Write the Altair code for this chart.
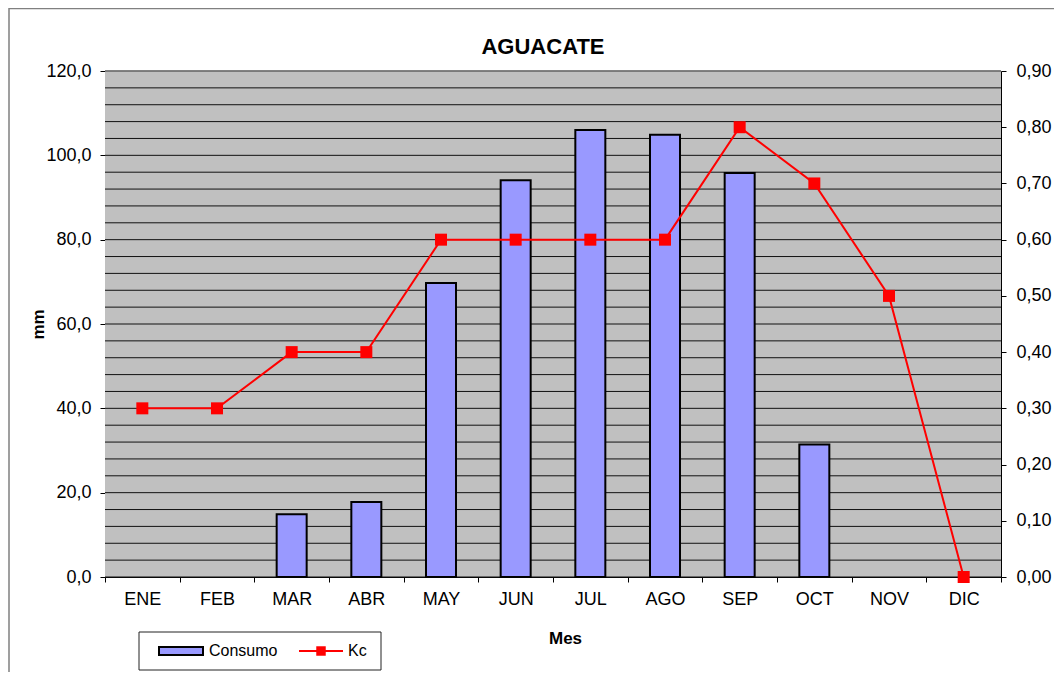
import altair as alt
import pandas as pd

meses = ["ENE", "FEB", "MAR", "ABR", "MAY", "JUN", "JUL", "AGO", "SEP", "OCT", "NOV", "DIC"]
consumo = [0, 0, 14.9, 17.8, 69.7, 94.1, 106.0, 104.9, 95.8, 31.4, 0, 0]
kc = [0.30, 0.30, 0.40, 0.40, 0.60, 0.60, 0.60, 0.60, 0.80, 0.70, 0.50, 0.00]
left_ticks = [0, 20, 40, 60, 80, 100, 120]
right_ticks = [0.0, 0.1, 0.2, 0.3, 0.4, 0.5, 0.6, 0.7, 0.8, 0.9]
grid_values = list(range(0, 121, 4))

FONT = "Liberation Sans"
W, H = 896, 506

df = pd.DataFrame({"Mes": meses, "Consumo": consumo, "Kc": kc})
grid_df = pd.DataFrame({"g": grid_values})
one = pd.DataFrame({"k": [0]})

x_axis = alt.Axis(
    title="Mes", titleFont=FONT, titleFontSize=17, titleFontWeight="bold",
    titleX=460, titleY=61, titleBaseline="middle", titleAlign="center",
    labelFont=FONT, labelFontSize=18, labelColor="black", labelAngle=0,
    labelPadding=8, tickBand="extent", tickSize=5, tickColor="black",
    domainColor="black", domainWidth=1, grid=False,
)
x_enc = alt.X("Mes:N", sort=meses, axis=x_axis,
              scale=alt.Scale(paddingInner=0, paddingOuter=0))

left_scale = alt.Scale(domain=[0, 120], nice=False, zero=True)
right_scale = alt.Scale(domain=[0, 0.9], nice=False, zero=True)

left_axis = alt.Axis(
    values=left_ticks, labelExpr="replace(format(datum.value, '.1f'), '.', ',')",
    title="mm", titleFont=FONT, titleFontSize=17, titleFontWeight="bold",
    titleX=-67, titleY=253, titleAngle=-90, titleBaseline="middle", titleAlign="center",
    labelFont=FONT, labelFontSize=18, labelColor="black", labelPadding=9,
    tickSize=5, tickColor="black", domainColor="black", domainWidth=1, grid=False,
)
right_axis = alt.Axis(
    orient="right", values=right_ticks,
    labelExpr="replace(format(datum.value, '.2f'), '.', ',')",
    title=None, labelFont=FONT, labelFontSize=18, labelColor="black", labelPadding=10,
    tickSize=5, tickColor="black", domainColor="black", domainWidth=1, grid=False,
)

bg = alt.Chart(one).mark_rect(color="#C0C0C0").encode(
    x=alt.value(0), x2=alt.value(W), y=alt.value(0), y2=alt.value(H)
)

grid = alt.Chart(grid_df).mark_rule(color="#111111", strokeWidth=1).encode(
    y=alt.Y("g:Q", scale=left_scale, axis=left_axis)
)

bars = alt.Chart(df).transform_filter("datum.Consumo > 0").mark_bar(
    size=30, color="#9999FF", stroke="black", strokeWidth=2
).encode(
    x=x_enc,
    y=alt.Y("Consumo:Q", scale=left_scale, axis=left_axis),
)

left = alt.layer(grid, bars)

line = alt.Chart(df).mark_line(color="#FF0000", strokeWidth=2).encode(
    x=x_enc,
    y=alt.Y("Kc:Q", scale=right_scale, axis=right_axis),
)
pts = alt.Chart(df).mark_point(
    shape="square", size=144, filled=True, color="#FF0000", opacity=1
).encode(
    x=x_enc,
    y=alt.Y("Kc:Q", scale=right_scale, axis=right_axis),
)
right = alt.layer(line, pts)

frame = alt.Chart(one).mark_rect(
    fill="white", fillOpacity=0, stroke="#808080", strokeWidth=1.5
).encode(
    x=alt.value(-96), x2=alt.value(990), y=alt.value(-62.5), y2=alt.value(650)
)

title = alt.Chart(one).mark_text(
    text="AGUACATE", font=FONT, fontSize=22, fontWeight="bold", color="black",
    align="center", baseline="middle"
).encode(x=alt.value(438), y=alt.value(-24))

top_border = alt.Chart(one).mark_rule(color="#808080", strokeWidth=1.5).encode(
    x=alt.value(0), x2=alt.value(W), y=alt.value(0)
)

leg_box = alt.Chart(one).mark_rect(fill="white", stroke="#222222", strokeWidth=1).encode(
    x=alt.value(34), x2=alt.value(276), y=alt.value(561), y2=alt.value(599)
)
leg_bar = alt.Chart(one).mark_rect(fill="#9999FF", stroke="black", strokeWidth=2).encode(
    x=alt.value(54), x2=alt.value(98), y=alt.value(576), y2=alt.value(584)
)
leg_t1 = alt.Chart(one).mark_text(
    text="Consumo", font=FONT, fontSize=16, align="left", baseline="middle", color="black"
).encode(x=alt.value(104), y=alt.value(580))
leg_line = alt.Chart(one).mark_rule(color="#FF0000", strokeWidth=2).encode(
    x=alt.value(194), x2=alt.value(238), y=alt.value(580)
)
leg_sq = alt.Chart(one).mark_point(
    shape="square", size=90, filled=True, color="#FF0000", opacity=1
).encode(x=alt.value(216), y=alt.value(580))
leg_t2 = alt.Chart(one).mark_text(
    text="Kc", font=FONT, fontSize=16, align="left", baseline="middle", color="black"
).encode(x=alt.value(243), y=alt.value(580))

chart = alt.layer(
    frame, bg, left, top_border, right, title,
    leg_box, leg_bar, leg_t1, leg_line, leg_sq, leg_t2
).resolve_scale(y="independent").properties(
    width=W, height=H,
    autosize=alt.AutoSizeParams(type="none"),
    padding={"left": 97, "top": 63, "right": 53, "bottom": 95},
).configure_view(
    stroke=None
).configure(background="white")

chart.save("out.html", embed_options={"renderer": "svg", "actions": False})
